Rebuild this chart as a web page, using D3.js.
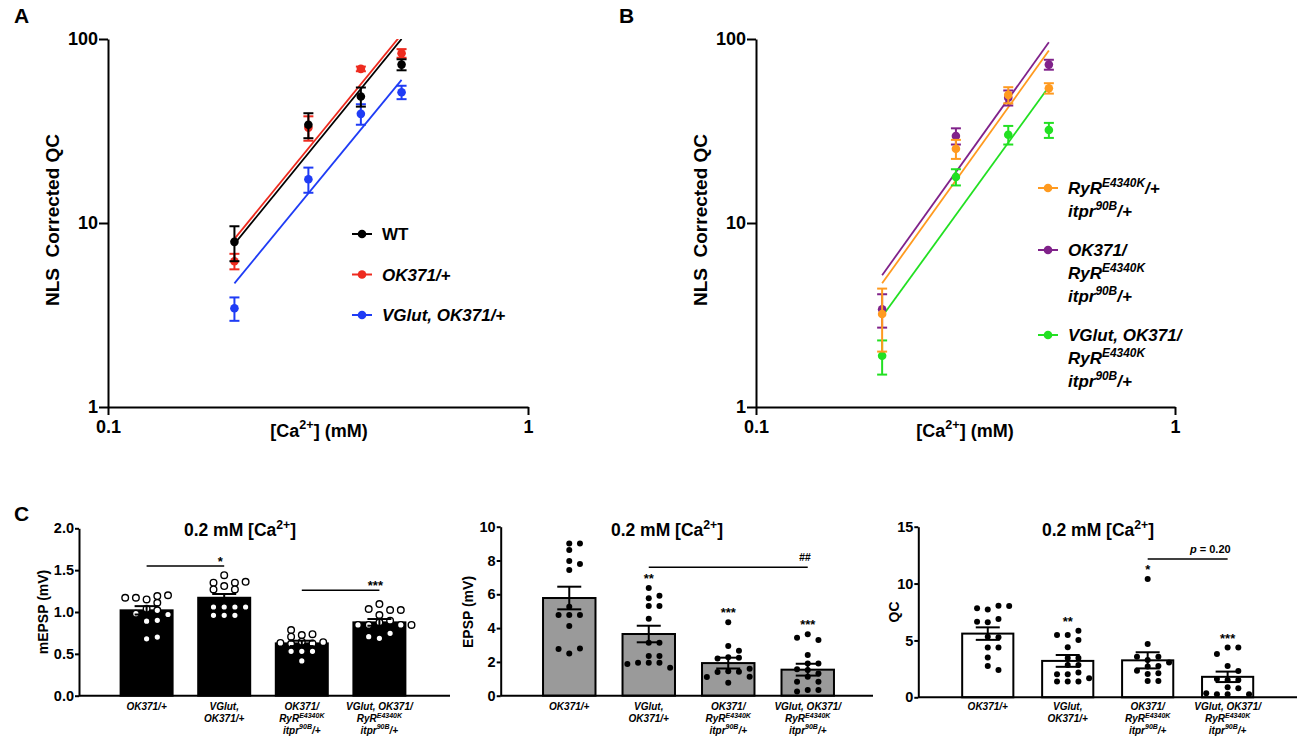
<!DOCTYPE html>
<meta charset="utf-8">
<style>
body { margin:0; background:white; }
text { font-weight:bold; }
</style>
<script src="https://d3js.org/d3.v7.min.js"></script>
<div id="fig"></div>
<script>
// ---------- data, panels A and B : NLS corrected QC vs [Ca2+] ----------
var caLevels = [0.2, 0.3, 0.4, 0.5];

var wtQC = [7.9, 34.2, 48.7, 72.6],      wtSEM = [1.7, 5.3, 5.8, 5.0];
var okQC = [6.2, 33.0, 68.8, 83.6],      okSEM = [0.6, 5.0, 2.0, 4.5];
var vgQC = [3.44, 17.3, 39.2, 51.4],     vgSEM = [0.5, 2.7, 5.0, 4.3];
// fit lines (end points, [Ca] mM, QC)
var wtFit = [[0.2, 7.7], [0.5, 100]];
var okFit = [[0.2, 8.2], [0.5, 106]];
var vgFit = [[0.2, 4.7], [0.5, 60]];

var ryrQC = [3.2, 25.3, 49.7, 54.0],     ryrSEM = [1.2, 3.0, 5.0, 3.5];
var okRyrQC = [3.4, 29.7, 48.0, 72.6],   okRyrSEM = [0.7, 3.0, 4.5, 4.5];
var vgRyrQC = [1.9, 17.8, 30.2, 32.0],   vgRyrSEM = [0.4, 1.8, 3.5, 3.0];
var ryrFit = [[0.2, 4.7], [0.5, 86.5]];
var okRyrFit = [[0.2, 5.2], [0.5, 96]];
var vgRyrFit = [[0.2, 3.1], [0.5, 55]];

// ---------- data, panel C : 0.2 mM [Ca2+] ----------
var genotypes = [
  ["OK371/+"],
  ["VGlut,", "OK371/+"],
  ["OK371/", "RyR^{E4340K}", "itpr^{90B}/+"],
  ["VGlut, OK371/", "RyR^{E4340K}", "itpr^{90B}/+"]
];

var mepspMean = [1.02, 1.17, 0.625, 0.876];
var mepspSEM  = [0.05, 0.045, 0.032, 0.04];
var mepspPts = [
  [1.15, 1.11, 1.19, 1.17, 1.20, 1.17, 1.04, 1.02, 0.98, 0.97, 0.89, 0.90, 0.68, 0.70],
  [1.31, 1.44, 1.35, 1.35, 1.36, 1.27, 1.27, 1.06, 1.06, 1.06, 1.06, 0.96, 0.96, 0.96],
  [0.645, 0.725, 0.735, 0.785, 0.705, 0.625, 0.64, 0.63, 0.62, 0.53, 0.53, 0.53, 0.415],
  [0.876, 1.095, 1.024, 1.036, 1.024, 0.964, 0.896, 0.845, 0.845, 0.845, 0.845, 0.685, 0.745, 0.705]
];

var epspMean = [5.78, 3.65, 1.93, 1.54];
var epspSEM  = [0.67, 0.49, 0.32, 0.35];
var epspPts = [
  [9.01, 9.01, 8.62, 7.97, 7.79, 7.44, 5.27, 4.77, 4.77, 4.77, 4.12, 2.5, 2.8, 2.76],
  [6.37, 5.76, 5.92, 5.31, 5.31, 4.56, 3.14, 3.14, 2.35, 2.35, 1.95, 1.95, 1.95, 1.66, 1.87],
  [4.34, 2.94, 2.66, 2.27, 2.25, 2.2, 1.45, 1.42, 1.40, 1.60, 1.12, 1.10, 0.77],
  [3.63, 3.29, 3.43, 2.41, 1.91, 1.91, 1.56, 1.52, 1.32, 1.12, 0.83, 0.83, 0.33, 0.33, 0.25]
];

var qcMean = [5.6, 3.2, 3.25, 1.8];
var qcSEM  = [0.55, 0.52, 0.71, 0.46];
var qcPts = [
  [7.73, 8.06, 7.82, 8.03, 6.59, 6.89, 6.65, 5.33, 5.27, 4.37, 4.37, 3.49, 2.75, 2.40],
  [5.48, 5.86, 5.48, 5.04, 4.39, 3.46, 3.46, 2.84, 2.84, 2.02, 2.17, 2.02, 1.38, 1.67, 1.38, 1.38],
  [10.4, 4.69, 3.28, 3.57, 3.57, 2.70, 2.75, 3.05, 2.34, 2.05, 2.11, 1.44, 1.44],
  [4.37, 4.37, 3.81, 2.75, 2.31, 1.52, 1.52, 1.6, 0.88, 0.79, 0.26, 0.26, 0.26, 0.35]
];

var epspStars = ["", "**", "***", "***"];
var qcStars   = ["", "**", "*", "***"];
var mepspComps = [[0, 1, 1.55, "*"], [2, 3, 1.26, "***"]];
var epspComps  = [[1, 3, 7.6, "##"]];
var qcComps    = [[2, 3, 12.15, "p = 0.20"]];

// ---------- drawing ----------
var font = "'Liberation Sans', Arial, sans-serif";

var svg = d3.select("#fig").append("svg")
  .attr("width", 1300).attr("height", 748)
  .style("background", "white");

// text with ^{...} superscripts
function richText(sel, str, fs) {
  var parts = str.split(/(\^\{[^}]*\})/), back = 0;
  parts.forEach(function(p) {
    if (!p) return;
    var t = sel.append("tspan");
    if (p.indexOf("^{") === 0) {
      t.attr("dy", -fs * 0.42).attr("font-size", fs * 0.7).text(p.slice(2, -1));
      back = fs * 0.42;
    } else {
      t.attr("dy", back).text(p);
      back = 0;
    }
  });
}

function styleAxis(g, size) {
  g.selectAll("path, line").attr("stroke", "#000").attr("stroke-width", 2);
  g.selectAll("text").attr("fill", "#000").attr("font-family", font)
    .attr("font-size", size).attr("font-weight", "bold");
}

function logPanel(o) {
  var x = d3.scaleLog().domain([0.1, 1]).range([o.left, o.right]);
  var y = d3.scaleLog().domain([1, 100]).range([407, 39]);
  var g = svg.append("g");

  svg.append("clipPath").attr("id", "clip" + o.id)
    .append("rect").attr("x", o.left).attr("y", 39)
    .attr("width", o.right - o.left).attr("height", 407 - 39);

  var line = d3.line().x(function(d) { return x(d[0]); }).y(function(d) { return y(d[1]); });

  o.draw.forEach(function(s) {
    g.append("path").datum(s.fit)
      .attr("clip-path", "url(#clip" + o.id + ")")
      .attr("d", line).attr("fill", "none")
      .attr("stroke", s.color).attr("stroke-width", 1.8);
  });

  o.draw.forEach(function(s) {
    var pts = caLevels.map(function(c, i) { return {c: c, v: s.qc[i], e: s.sem[i]}; });
    var pg = g.append("g").attr("stroke", s.color).attr("stroke-width", 2);
    pg.selectAll(".eb").data(pts).enter().append("line")
      .attr("x1", function(d) { return x(d.c); }).attr("x2", function(d) { return x(d.c); })
      .attr("y1", function(d) { return y(d.v - d.e); }).attr("y2", function(d) { return y(d.v + d.e); });
    [-1, 1].forEach(function(sg) {
      pg.selectAll(".cap" + sg).data(pts).enter().append("line")
        .attr("x1", function(d) { return x(d.c) - 5; }).attr("x2", function(d) { return x(d.c) + 5; })
        .attr("y1", function(d) { return y(d.v + sg * d.e); }).attr("y2", function(d) { return y(d.v + sg * d.e); });
    });
    g.selectAll(null).data(pts).enter().append("circle")
      .attr("cx", function(d) { return x(d.c); }).attr("cy", function(d) { return y(d.v); })
      .attr("r", 4.3).attr("fill", s.color);
  });

  // axes
  var ax = svg.append("g").attr("transform", "translate(0,407)");
  ax.call(d3.axisBottom(x).tickValues([0.2, 0.3, 0.4, 0.5, 0.6, 0.7, 0.8, 0.9]).tickFormat("").tickSize(8).tickSizeOuter(0));
  ax.call(d3.axisBottom(x).tickValues([0.1, 1]).tickFormat(function(d) { return d === 1 ? "1" : "0.1"; })
    .tickSize(8).tickPadding(5).tickSizeOuter(0));
  styleAxis(ax, 18);

  var minor = [];
  [1, 10].forEach(function(dec) { for (var k = 2; k <= 9; k++) minor.push(k * dec); });
  var ay = svg.append("g").attr("transform", "translate(" + o.left + ",0)");
  ay.call(d3.axisLeft(y).tickValues(minor).tickFormat("").tickSize(5).tickSizeOuter(0));
  ay.call(d3.axisLeft(y).tickValues([1, 10, 100]).tickFormat(d3.format("d")).tickSize(9).tickPadding(1).tickSizeOuter(0));
  styleAxis(ay, 18);

  svg.append("text").attr("transform", "translate(" + (o.left - 49) + ",220) rotate(-90)")
    .attr("text-anchor", "middle").attr("font-family", font).attr("font-size", 19)
    .text("NLS\u00a0\u00a0Corrected QC");

  var xl = svg.append("text").attr("x", o.xLabelX).attr("y", 437)
    .attr("text-anchor", "middle").attr("font-family", font).attr("font-size", 18);
  richText(xl, "[Ca^{2+}] (mM)", 18);

  svg.append("text").attr("x", o.letterX).attr("y", 23)
    .attr("font-family", font).attr("font-size", 21).text(o.letter);

  // legend
  var yy = o.legendY;
  o.legend.forEach(function(s) {
    var lg = svg.append("g").attr("transform", "translate(" + o.legendX + "," + yy + ")");
    lg.append("line").attr("x1", -10).attr("x2", 10).attr("stroke", s.color).attr("stroke-width", 2);
    lg.append("circle").attr("r", 4.3).attr("fill", s.color);
    s.label.forEach(function(txt, i) {
      var t = lg.append("text").attr("x", 20).attr("y", 6 + i * o.lineH)
        .attr("font-family", font).attr("font-size", 17)
        .attr("font-style", s.italic ? "italic" : "normal");
      richText(t, txt, 17);
    });
    yy += s.label.length * o.lineH + o.gap;
  });
}

var sWT = {qc: wtQC, sem: wtSEM, fit: wtFit, color: "#000000", label: ["WT"], italic: false};
var sOK = {qc: okQC, sem: okSEM, fit: okFit, color: "#ee2b1f", label: ["OK371/+"], italic: true};
var sVG = {qc: vgQC, sem: vgSEM, fit: vgFit, color: "#1f3cf5", label: ["VGlut, OK371/+"], italic: true};

logPanel({id: "A", left: 108, right: 528, xLabelX: 319, letter: "A", letterX: 14,
  draw: [sVG, sOK, sWT], legend: [sWT, sOK, sVG], legendX: 362, legendY: 234, lineH: 23, gap: 17.5});

var sRyR = {qc: ryrQC, sem: ryrSEM, fit: ryrFit, color: "#ff9a1f", label: ["RyR^{E4340K}/+", "itpr^{90B}/+"], italic: true};
var sOkRyR = {qc: okRyrQC, sem: okRyrSEM, fit: okRyrFit, color: "#80228a", label: ["OK371/", "RyR^{E4340K}", "itpr^{90B}/+"], italic: true};
var sVgRyR = {qc: vgRyrQC, sem: vgRyrSEM, fit: vgRyrFit, color: "#22e022", label: ["VGlut, OK371/", "RyR^{E4340K}", "itpr^{90B}/+"], italic: true};

logPanel({id: "B", left: 756, right: 1175, xLabelX: 965, letter: "B", letterX: 619,
  draw: [sVgRyR, sOkRyR, sRyR], legend: [sRyR, sOkRyR, sVgRyR], legendX: 1048, legendY: 188, lineH: 23, gap: 16});

// ---------- bar panels ----------
function swarm(vals, y, d) {
  var placed = [];
  return vals.map(function(v) {
    var py = y(v), k = 0, off;
    while (true) {
      off = (k % 2 === 1 ? 1 : -1) * Math.ceil(k / 2) * d;
      var hit = placed.some(function(p) {
        return Math.abs(p[0] - off) < d - 0.5 && Math.abs(p[1] - py) < 6.5;
      });
      if (!hit) break;
      k++;
    }
    placed.push([off, py]);
    return {v: v, dx: off};
  });
}

function barPanel(o) {
  var x = d3.scaleBand().domain(d3.range(genotypes.length)).range(o.band).padding(o.pad);
  var y = d3.scaleLinear().domain([0, o.max]).range([o.y0, o.y1]);
  var g = svg.append("g");
  var bw = x.bandwidth();
  var cx = function(i) { return x(i) + bw / 2; };

  g.selectAll(".bar").data(o.mean).enter().append("rect")
    .attr("x", function(d, i) { return x(i); }).attr("width", bw)
    .attr("y", function(d) { return y(d); })
    .attr("height", function(d) { return y(0) - y(d); })
    .attr("fill", o.fill).attr("stroke", "#000").attr("stroke-width", 2);

  o.pts.forEach(function(vals, i) {
    g.selectAll(null).data(swarm(vals, y, 10.7)).enter().append("circle")
      .attr("cx", function(d) { return cx(i) + d.dx; })
      .attr("cy", function(d) { return y(d.v); })
      .attr("r", o.open ? 3.3 : 3)
      .attr("fill", o.open ? "#fff" : "#000")
      .attr("stroke", "#000").attr("stroke-width", o.open ? 1.4 : 0);
  });

  var eg = g.append("g").attr("stroke", "#000").attr("stroke-width", 2);
  o.mean.forEach(function(m, i) {
    var lo = y(m - o.sem[i]), hi = y(m + o.sem[i]);
    eg.append("line").attr("x1", cx(i)).attr("x2", cx(i)).attr("y1", lo).attr("y2", hi);
    [lo, hi].forEach(function(yy) {
      eg.append("line").attr("x1", cx(i) - 12).attr("x2", cx(i) + 12).attr("y1", yy).attr("y2", yy);
    });
  });

  // stars vs control
  (o.stars || []).forEach(function(s, i) {
    if (!s) return;
    g.append("text").attr("x", cx(i)).attr("y", y(d3.max(o.pts[i])) - 5)
      .attr("text-anchor", "middle").attr("font-family", font).attr("font-size", 13)
      .attr("fill", "#000").text(s);
  });

  // comparison lines
  o.comps.forEach(function(c) {
    var ly = y(c[2]);
    g.append("line").attr("x1", cx(c[0])).attr("x2", cx(c[1])).attr("y1", ly).attr("y2", ly)
      .attr("stroke", "#000").attr("stroke-width", 1.5);
    var t = g.append("text").attr("font-family", font).attr("fill", "#000");
    if (c[3].charAt(0) === "p") {
      t.attr("x", cx(c[1]) + 3).attr("y", ly - 6).attr("text-anchor", "end").attr("font-size", 11);
      t.append("tspan").attr("font-style", "italic").text("p");
      t.append("tspan").text(c[3].slice(1));
    } else if (c[3].charAt(0) === "#") {
      t.attr("x", cx(c[1]) - 3).attr("y", ly - 6).attr("text-anchor", "middle")
        .attr("font-size", 10.5).attr("font-style", "italic").text(c[3]);
    } else {
      t.attr("x", cx(c[1]) - 4).attr("y", ly).attr("text-anchor", "middle")
        .attr("font-size", 13).text(c[3]);
    }
  });

  // axes
  var ay = svg.append("g").attr("transform", "translate(" + o.axisX + ",0)");
  ay.call(d3.axisLeft(y).tickValues(o.ticks).tickFormat(d3.format(o.fmt)).tickSize(4).tickPadding(1).tickSizeOuter(0));
  styleAxis(ay, 14.5);
  svg.append("line").attr("x1", o.axisX).attr("x2", o.axisEnd).attr("y1", y(0)).attr("y2", y(0))
    .attr("stroke", "#000").attr("stroke-width", 2);

  genotypes.forEach(function(lines, i) {
    lines.forEach(function(txt, j) {
      var t = svg.append("text").attr("x", cx(i)).attr("y", 710 + j * 11.8)
        .attr("text-anchor", "middle").attr("font-family", font).attr("font-size", 10)
        .attr("font-style", "italic");
      richText(t, txt, 10);
    });
  });

  var tt = svg.append("text").attr("x", o.titleX).attr("y", 536)
    .attr("text-anchor", "middle").attr("font-family", font).attr("font-size", 17.5);
  richText(tt, "0.2 mM [Ca^{2+}]", 17.5);

  svg.append("text").attr("transform", "translate(" + o.yLabelX + ",612) rotate(-90)")
    .attr("text-anchor", "middle").attr("font-family", font).attr("font-size", 14)
    .text(o.yLabel);
}

barPanel({band: [95, 431], pad: 0.33, y0: 695.7, y1: 528.3, max: 2, axisX: 79, axisEnd: 450,
  mean: mepspMean, sem: mepspSEM, pts: mepspPts, fill: "#000", open: true,
  comps: mepspComps, ticks: [0, 0.5, 1, 1.5, 2], fmt: ".1f",
  titleX: 240, yLabelX: 48, yLabel: "mEPSP (mV)"});

barPanel({band: [516, 861], pad: 0.34, y0: 695.7, y1: 526.7, max: 10, axisX: 500.7, axisEnd: 873,
  mean: epspMean, sem: epspSEM, pts: epspPts, fill: "#9a9a9a", open: false,
  stars: epspStars, comps: epspComps, ticks: [0, 2, 4, 6, 8, 10], fmt: "d",
  titleX: 667, yLabelX: 473, yLabel: "EPSP (mV)"});

barPanel({band: [933.4, 1282], pad: 0.36, y0: 697.3, y1: 526.7, max: 15, axisX: 918.3, axisEnd: 1297,
  mean: qcMean, sem: qcSEM, pts: qcPts, fill: "#fff", open: false,
  stars: qcStars, comps: qcComps, ticks: [0, 5, 10, 15], fmt: "d",
  titleX: 1098, yLabelX: 899, yLabel: "QC"});

svg.append("text").attr("x", 14).attr("y", 521)
  .attr("font-family", font).attr("font-size", 21).text("C");
</script>
